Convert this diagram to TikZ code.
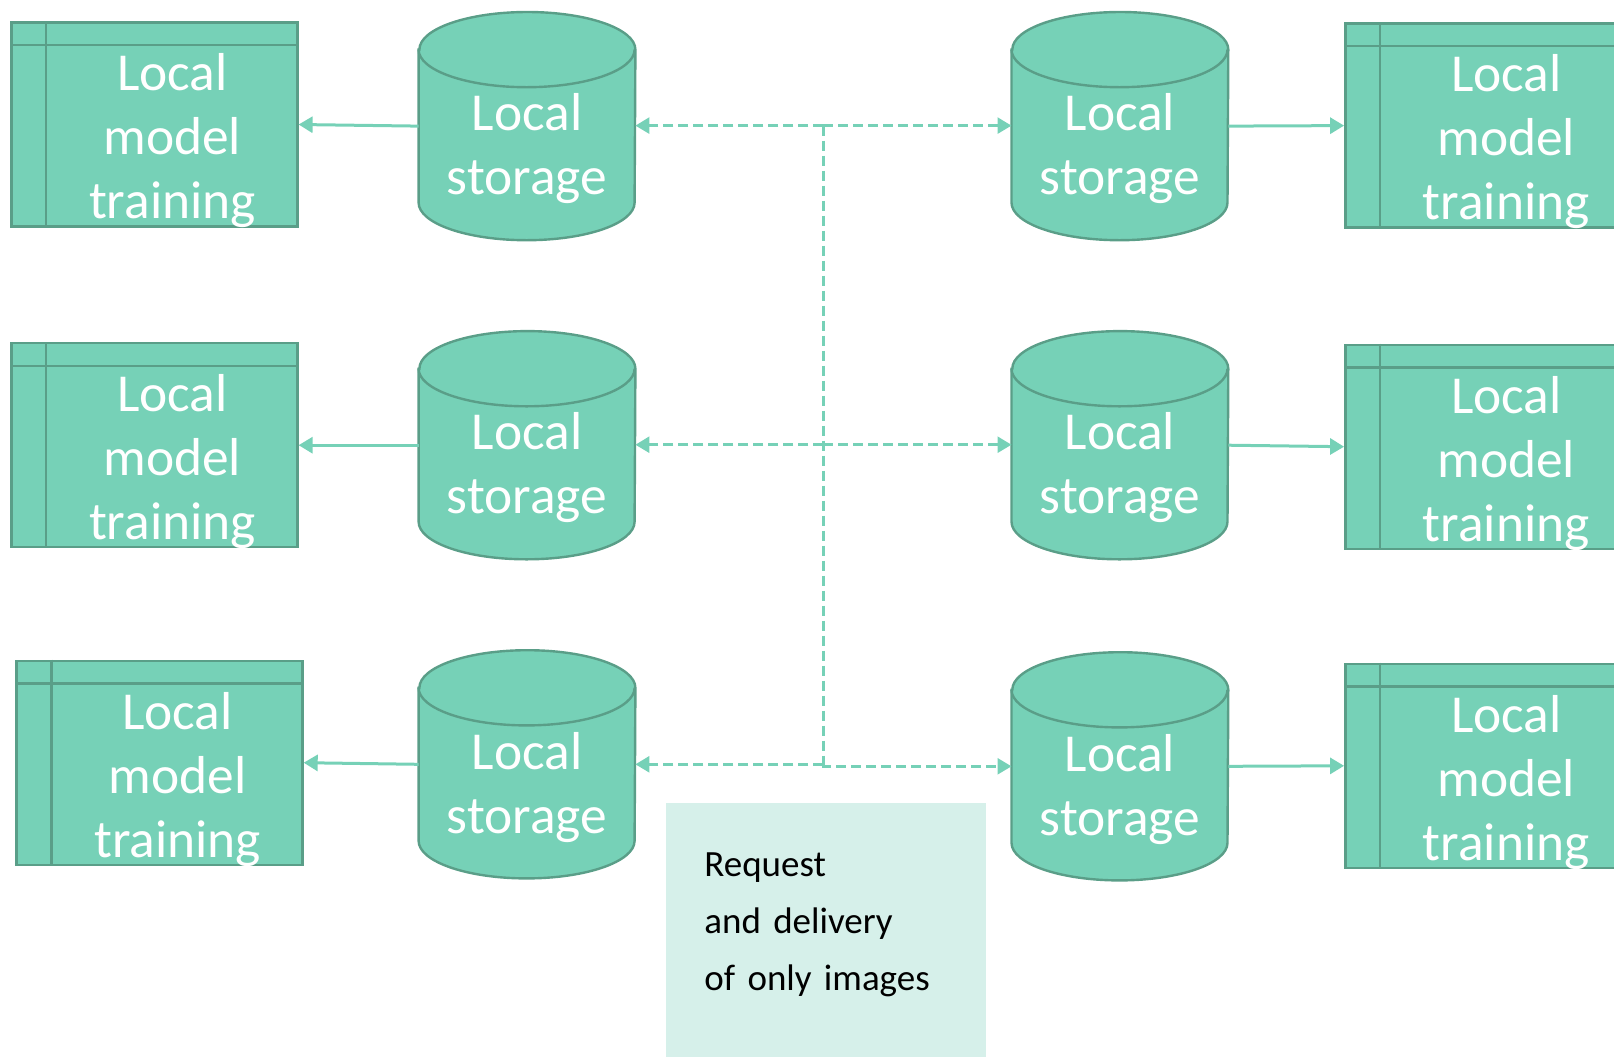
\documentclass[tikz,border=0pt]{standalone}
\usepackage{fontspec}
\setmainfont{Carlito}
\usetikzlibrary{arrows.meta}
\definecolor{mint}{HTML}{76D1B7}
\definecolor{mintedge}{HTML}{5A9E88}
\definecolor{notefill}{HTML}{D6F0EA}
\tikzset{
  trainbox/.style={rectangle,draw=mintedge,fill=mint,line width=1.2pt,
    minimum width=143pt,minimum height=102pt,inner sep=0pt},
  storecyl/.style={rectangle,minimum width=108pt,minimum height=113.7pt,inner sep=0pt},
  cylline/.style={draw=mintedge,fill=mint,line width=1.2pt},
  boxtext/.style={text=white,align=center,inner sep=0pt,font=\fontsize{26.7}{32}\selectfont},
  feed/.style={draw=mint,line width=1.5pt,-{Triangle[length=7pt,width=8pt]}},
  share/.style={draw=mint,line width=1.3pt,dash pattern=on 5pt off 2.5pt},
  note/.style={rectangle,fill=notefill,text width=122pt,inner xsep=19pt,inner ysep=0pt,
    minimum height=127pt,text depth=66pt,align=left,font=\fontsize{18.5}{28.6}\selectfont}
}
\begin{document}
\begin{tikzpicture}[x=0.5pt,y=-0.5pt]
 \useasboundingbox (0,0) rectangle (1614,1057);
 % training boxes
 \node[trainbox] (t1) at (154.4,124.5) {};
 \node[trainbox] (t2) at (154.4,445.2) {};
 \node[trainbox] (t3) at (159.5,762.7) {};
 \node[trainbox] (t4) at (1488.3,125.6) {};
 \node[trainbox] (t5) at (1488.3,446.7) {};
 \node[trainbox] (t6) at (1488.3,765.8) {};
 \foreach \b in {t1,t2,t3,t4,t5,t6} {
   \draw[mintedge,line width=1.2pt] ([yshift=-11.9pt]\b.north west) -- ([yshift=-11.9pt]\b.north east);
   \draw[mintedge,line width=1.2pt] ([xshift=18pt]\b.north west) -- ([xshift=18pt]\b.south west);
   \node[boxtext] (\b txt) at ([xshift=9pt,yshift=-8.2pt]\b.center) {Local\\model\\training};
 }
 % storage cylinders
 \node[storecyl] (s1) at (527,126.1) {};
 \node[storecyl] (s2) at (527,445.2) {};
 \node[storecyl] (s3) at (527,764.3) {};
 \node[storecyl] (s4) at (1119.9,126.1) {};
 \node[storecyl] (s5) at (1119.9,445.2) {};
 \node[storecyl] (s6) at (1119.9,766.3) {};
 \foreach \c in {s1,s2,s3,s4,s5,s6} {
   \path[cylline] ([yshift=-18.8pt]\c.north west) -- ([yshift=18.8pt]\c.south west)
     arc[start angle=180,end angle=360,x radius=54pt,y radius=18.8pt]
     -- ([yshift=-18.8pt]\c.north east)
     arc[start angle=0,end angle=180,x radius=54pt,y radius=18.8pt] -- cycle;
   \draw[mintedge,line width=1.2pt] ([yshift=-18.8pt]\c.north west)
     arc[start angle=180,end angle=360,x radius=54pt,y radius=18.8pt];
   \node[boxtext] (\c txt) at ([yshift=-11.4pt]\c.center) {Local\\storage};
 }
 % feeding the local training
 \draw[feed] (s1.west) -- (t1.east);
 \draw[feed] (s2.west) -- (t2.east);
 \draw[feed] (s3.west) -- (t3.east);
 \draw[feed] (s4.east) -- (t4.west);
 \draw[feed] (s5.east) -- (t5.west);
 \draw[feed] (s6.east) -- (t6.west);
 % image exchange
 \coordinate (h1) at (823.4,125.6);
 \coordinate (h2) at (823.4,444.7);
 \coordinate (h3) at (823.4,764.3);
 \draw[share] (h1) -- (h3);
 \draw[share,-{Triangle[length=7pt,width=8pt]}] (h1) -- (h1 -| s1.east);
 \draw[share,-{Triangle[length=7pt,width=8pt]}] (h1) -- (h1 -| s4.west);
 \draw[share,-{Triangle[length=7pt,width=8pt]}] (h2) -- (h2 -| s2.east);
 \draw[share,-{Triangle[length=7pt,width=8pt]}] (h2) -- (h2 -| s5.west);
 \draw[share,-{Triangle[length=7pt,width=8pt]}] (h3) -- (h3 -| s3.east);
 \draw[share,-{Triangle[length=7pt,width=8pt]}] (h3) |- (s6.west);
 \node[note,anchor=north west] (req) at (666,803) {Request\\and delivery\\of only images};
\end{tikzpicture}
\end{document}
